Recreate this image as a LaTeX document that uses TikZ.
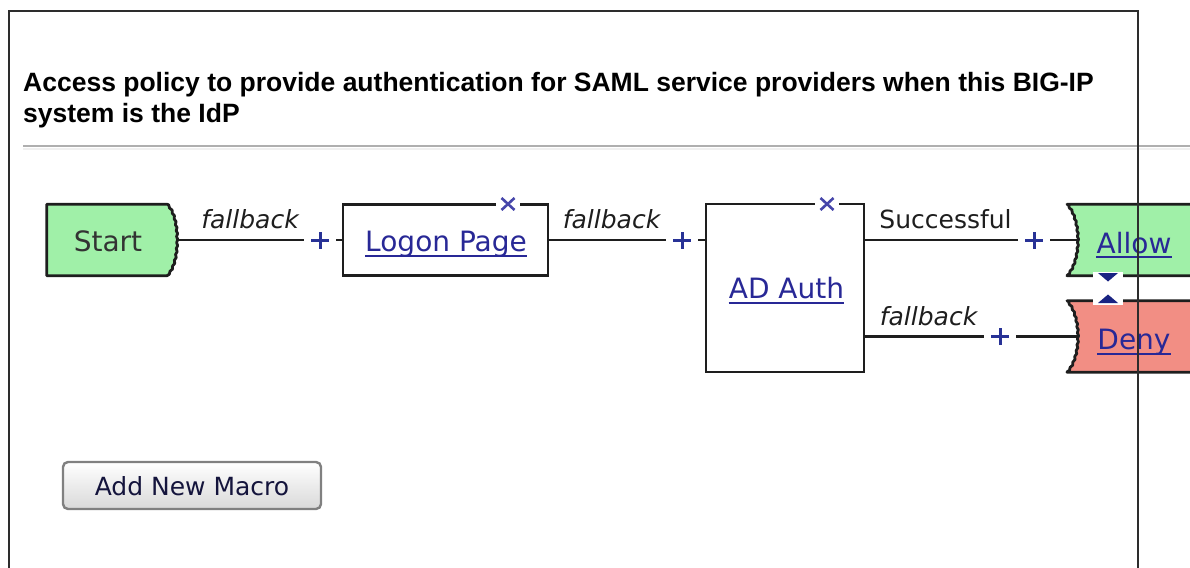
\documentclass[tikz,border=0pt]{standalone}
\usepackage{fontspec}
\setmainfont{Liberation Sans}
\newfontfamily\ui{DejaVu Sans}
\usetikzlibrary{calc,decorations.pathmorphing}
\definecolor{boxline}{RGB}{30,30,30}
\definecolor{stgreen}{RGB}{160,240,168}
\definecolor{denyred}{RGB}{242,142,132}
\definecolor{linkblue}{RGB}{40,40,150}
\definecolor{plusblue}{RGB}{40,50,150}
\definecolor{xblue}{RGB}{70,70,170}
\definecolor{triblue}{RGB}{25,35,130}
\definecolor{framecol}{RGB}{45,45,45}
\definecolor{sepgray}{RGB}{175,175,175}
\definecolor{btngray}{RGB}{128,128,128}
\definecolor{btntext}{RGB}{20,20,60}
\definecolor{lbltext}{RGB}{30,30,30}
\begin{document}
\begin{tikzpicture}[x=1pt,y=-1pt,
  boxnode/.style={draw=boxline, line width=2.8pt, fill=white, inner sep=0, rectangle},
  shapenode/.style={inner sep=0, rectangle},
  conn/.style={draw=boxline, line width=2.8pt},
  jag/.style={decoration={zigzag, segment length=6pt, amplitude=0.6pt}},
  plusnode/.style={minimum size=32pt, inner sep=0, path picture={
      \draw[plusblue, line width=3pt]
        ([xshift=-9pt]path picture bounding box.center) -- ([xshift=9pt]path picture bounding box.center)
        ([yshift=-8.5pt]path picture bounding box.center) -- ([yshift=8.5pt]path picture bounding box.center);}},
  xmark/.style={minimum width=24pt, minimum height=16pt, inner sep=0, fill=white, path picture={
      \draw[xblue, line width=2.6pt]
        ($(path picture bounding box.center)+(-6.5,-6)$) -- ($(path picture bounding box.center)+(6.5,6)$)
        ($(path picture bounding box.center)+(-6.5,6)$) -- ($(path picture bounding box.center)+(6.5,-6)$);}},
  tridown/.style={minimum width=30pt, minimum height=11pt, inner sep=0, fill=white, path picture={
      \fill[triblue] ($(path picture bounding box.center)+(-10,-4)$) -- ($(path picture bounding box.center)+(10,-4)$) -- ($(path picture bounding box.center)+(0,4.5)$) -- cycle;}},
  triup/.style={minimum width=30pt, minimum height=11pt, inner sep=0, fill=white, path picture={
      \fill[triblue] ($(path picture bounding box.center)+(-10,4)$) -- ($(path picture bounding box.center)+(10,4)$) -- ($(path picture bounding box.center)+(0,-4.5)$) -- cycle;}},
  nodetext/.style={inner sep=0, anchor=base, font=\ui\fontsize{28}{32}\selectfont},
  linktext/.style={nodetext, text=linkblue},
  lbl/.style={inner sep=0, anchor=base, text=lbltext, font=\ui\fontsize{25}{30}\selectfont},
  lbli/.style={lbl, font=\ui\itshape\fontsize{25}{30}\selectfont},
  uline/.style={draw=linkblue, line width=2pt},
  btn/.style={draw=btngray, line width=2.4pt, rounded corners=5pt, top color=white, bottom color=black!15,
      minimum width=258pt, minimum height=47pt, inner sep=0, text height=20pt, text depth=0pt,
      text=btntext, font=\ui\fontsize{25}{30}\selectfont},
  titlefont/.style={inner sep=0, anchor=base west, font=\bfseries\fontsize{26.5}{30}\selectfont}
]
\clip (0,0) rectangle (1190,567);
\fill[white] (0,0) rectangle (1190,567);

% title
\node[titlefont] (title1) at (23,92) {Access policy to provide authentication for SAML service providers when this BIG-IP};
\node[titlefont] (title2) at (23,122) {system is the IdP};
\draw[line width=2.5pt, color=black!6] (23,149) -- (1190,149);
\draw[line width=1.8pt, color=sepgray] (23,146) -- (1190,146);

% Start
\node[shapenode, minimum width=130pt, minimum height=71pt] (start) at (112,240) {};
\filldraw[fill=stgreen, draw=boxline, line width=2.8pt, line join=round]
  (start.north west) -- ($(start.north east)+(-10,0)$)
  decorate[jag]{.. controls ($(start.north east)+(-2,8)$) and ($(start.east)+(0,-12)$) .. (start.east)
  .. controls ($(start.east)+(0,12)$) and ($(start.south east)+(-2,-8)$) .. ($(start.south east)+(-10,0)$)}
  -- (start.south west) -- cycle;
\node[nodetext, text=black!80] (starttxt) at (108,251) {Start};

% Logon Page
\node[boxnode, minimum width=205pt, minimum height=71pt] (logon) at (445.5,240) {};
\node[xmark] (xlogon) at (508,204) {};
\node[linktext] (logontxt) at (446,251) {Logon Page};
\draw[uline] ($(logontxt.base west)+(0,5)$) -- ($(logontxt.base east)+(0,5)$);

% AD Auth
\node[boxnode, minimum width=158pt, minimum height=168pt] (ad) at (785,288) {};
\node[xmark] (xad) at (827,204) {};
\node[linktext] (adtxt) at (786.5,298) {AD Auth};
\draw[uline] ($(adtxt.base west)+(0,5)$) -- ($(adtxt.base east)+(0,5)$);

% Allow
\node[shapenode, minimum width=140pt, minimum height=71pt, anchor=west] (allow) at (1067,240) {};
\coordinate (allowin) at ($(allow.west)+(11,0)$);
\filldraw[fill=stgreen, draw=boxline, line width=2.8pt, line join=round]
  (allow.north east) -- (allow.north west)
  decorate[jag]{.. controls ($(allow.north west)+(8,8)$) and ($(allowin)+(0,-12)$) .. (allowin)
  .. controls ($(allowin)+(0,12)$) and ($(allow.south west)+(8,-8)$) .. (allow.south west)}
  -- (allow.south east) -- cycle;
\node[linktext] (allowtxt) at (1134,253) {Allow};
\draw[uline] ($(allowtxt.base west)+(0,4)$) -- ($(allowtxt.base east)+(0,4)$);

% Deny
\node[shapenode, minimum width=140pt, minimum height=71pt, anchor=west] (deny) at (1067,336.5) {};
\coordinate (denyin) at ($(deny.west)+(11,0)$);
\filldraw[fill=denyred, draw=boxline, line width=2.8pt, line join=round]
  (deny.north east) -- (deny.north west)
  decorate[jag]{.. controls ($(deny.north west)+(8,8)$) and ($(denyin)+(0,-12)$) .. (denyin)
  .. controls ($(denyin)+(0,12)$) and ($(deny.south west)+(8,-8)$) .. (deny.south west)}
  -- (deny.south east) -- cycle;
\node[linktext] (denytxt) at (1134,349) {Deny};
\draw[uline] ($(denytxt.base west)+(0,5)$) -- ($(denytxt.base east)+(0,5)$);

\node[tridown] (tdown) at (1108,277) {};
\node[triup] (tup) at (1108,299) {};

% plus signs
\node[plusnode] (p1) at (320,240) {};
\node[plusnode] (p2) at (682,240) {};
\node[plusnode] (p3) at (1034,240) {};
\node[plusnode] (p4) at (1000,336.5) {};

% connectors
\draw[conn] (start.east) -- (p1.west);
\draw[conn] (p1.east) -- (p1.east -| logon.west);
\draw[conn] (logon.east |- p2.west) -- (p2.west);
\draw[conn] (p2.east) -- (p2.east -| ad.west);
\draw[conn] (ad.east |- p3.west) -- (p3.west);
\draw[conn] (p3.east) -- (allowin);
\draw[conn] (ad.east |- p4.west) -- (p4.west);
\draw[conn] (p4.east) -- (denyin);

% connector labels
\node[lbli] (lab1) at (250,228) {fallback};
\node[lbli] (lab2) at (611.5,228) {fallback};
\node[lbl] (lab3) at (945.5,228) {Successful};
\node[lbli] (lab4) at (928.5,325) {fallback};

% button
\node[btn] (macro) at (192,485.5) {Add New Macro};

% frame
\draw[line width=2.2pt, color=framecol] (9,575) -- (9,11) -- (1138,11) -- (1138,575);
\end{tikzpicture}
\end{document}
